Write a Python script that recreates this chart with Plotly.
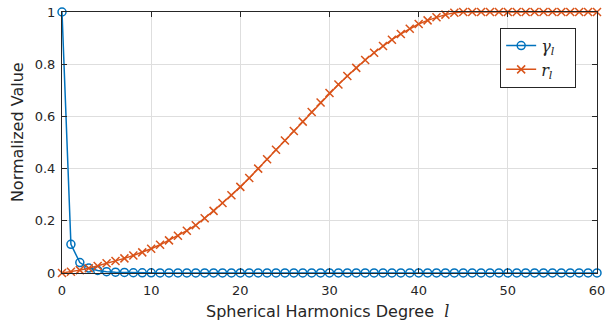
import plotly.graph_objects as go

degree = list(range(0, 61))

gamma_l = [1.0, 0.11, 0.04, 0.019, 0.01, 0.005, 0.003, 0.002, 0.001, 0.0008,
           0.0006] + [0.0004] * 50

r_l = [0.0, 0.005, 0.011, 0.018, 0.027, 0.037, 0.046, 0.056, 0.067, 0.079,
       0.093, 0.108, 0.125, 0.143, 0.162, 0.183, 0.21, 0.238, 0.268, 0.298,
       0.33, 0.364, 0.4, 0.436, 0.472, 0.508, 0.544, 0.58, 0.617, 0.653,
       0.69, 0.722, 0.755, 0.786, 0.816, 0.844, 0.87, 0.894, 0.916, 0.936,
       0.954, 0.968, 0.98, 0.99, 0.997] + [1.0] * 16

x_ticks = [0, 10, 20, 30, 40, 50, 60]
y_ticks = [0, 0.2, 0.4, 0.6, 0.8, 1]
y_tick_labels = ["0", "0.2", "0.4", "0.6", "0.8", "1"]

x_title = "Spherical Harmonics Degree  <span style=\"font-family:'DejaVu Serif'\"><i>l</i></span>"
y_title = "Normalized Value"

BLUE = "#0072BD"
ORANGE = "#D95319"
AX = "#262626"
SERIF = "DejaVu Serif"

fig = go.Figure()
fig.add_trace(go.Scatter(
    x=degree, y=gamma_l, mode="lines+markers",
    name=f"<span style=\"font-family:'{SERIF}'\"><i>γ<sub>l</sub></i></span>\u00a0\u00a0\u00a0",
    line=dict(color=BLUE, width=1.5),
    marker=dict(symbol="circle-open", size=8, color=BLUE, line=dict(width=1.5)),
    cliponaxis=False,
))
fig.add_trace(go.Scatter(
    x=degree, y=r_l, mode="lines+markers",
    name=f"<span style=\"font-family:'{SERIF}'\"><i>r<sub>l</sub></i></span>\u00a0\u00a0\u00a0",
    line=dict(color=ORANGE, width=1.5),
    marker=dict(symbol="x-thin-open", size=8, color=ORANGE, line=dict(width=1.5, color=ORANGE)),
    cliponaxis=False,
))

axis_common = dict(
    showline=True, linecolor=AX, linewidth=1, mirror="ticks",
    ticks="inside", ticklen=5, tickcolor=AX, tickwidth=1,
    showgrid=True, gridcolor="#dedede", gridwidth=1,
    zeroline=False, automargin=False, ticklabeloverflow="allow",
    tickfont=dict(family="DejaVu Sans", size=13, color=AX),
)

fig.update_layout(
    width=605, height=326,
    margin=dict(l=62, r=8, t=12, b=53),
    paper_bgcolor="white", plot_bgcolor="white",
    showlegend=True,
    legend=dict(
        x=0.819, y=0.94, xanchor="left", yanchor="top",
        bordercolor=AX, borderwidth=1, bgcolor="white",
        font=dict(family=SERIF, size=16, color=AX),
        tracegroupgap=0, itemwidth=30,
    ),
    xaxis=dict(range=[0, 60], tickvals=x_ticks, ticklabelstandoff=5, **axis_common),
    yaxis=dict(range=[0, 1], tickvals=y_ticks, ticktext=y_tick_labels,
               ticklabelstandoff=3, **axis_common),
    annotations=[
        dict(text=x_title, xref="paper", yref="paper", x=0.497, y=-0.148,
             xanchor="center", yanchor="middle", showarrow=False,
             font=dict(family="DejaVu Sans", size=16, color=AX)),
        dict(text=y_title, xref="paper", yref="paper", x=-0.084, y=0.54,
             xanchor="center", yanchor="middle", showarrow=False, textangle=-90,
             font=dict(family="DejaVu Sans", size=16, color=AX)),
    ],
)

fig.write_html(
    "out.html",
    config={"displayModeBar": False},
    post_script="document.body.style.margin='0';document.body.style.overflow='hidden';",
)
